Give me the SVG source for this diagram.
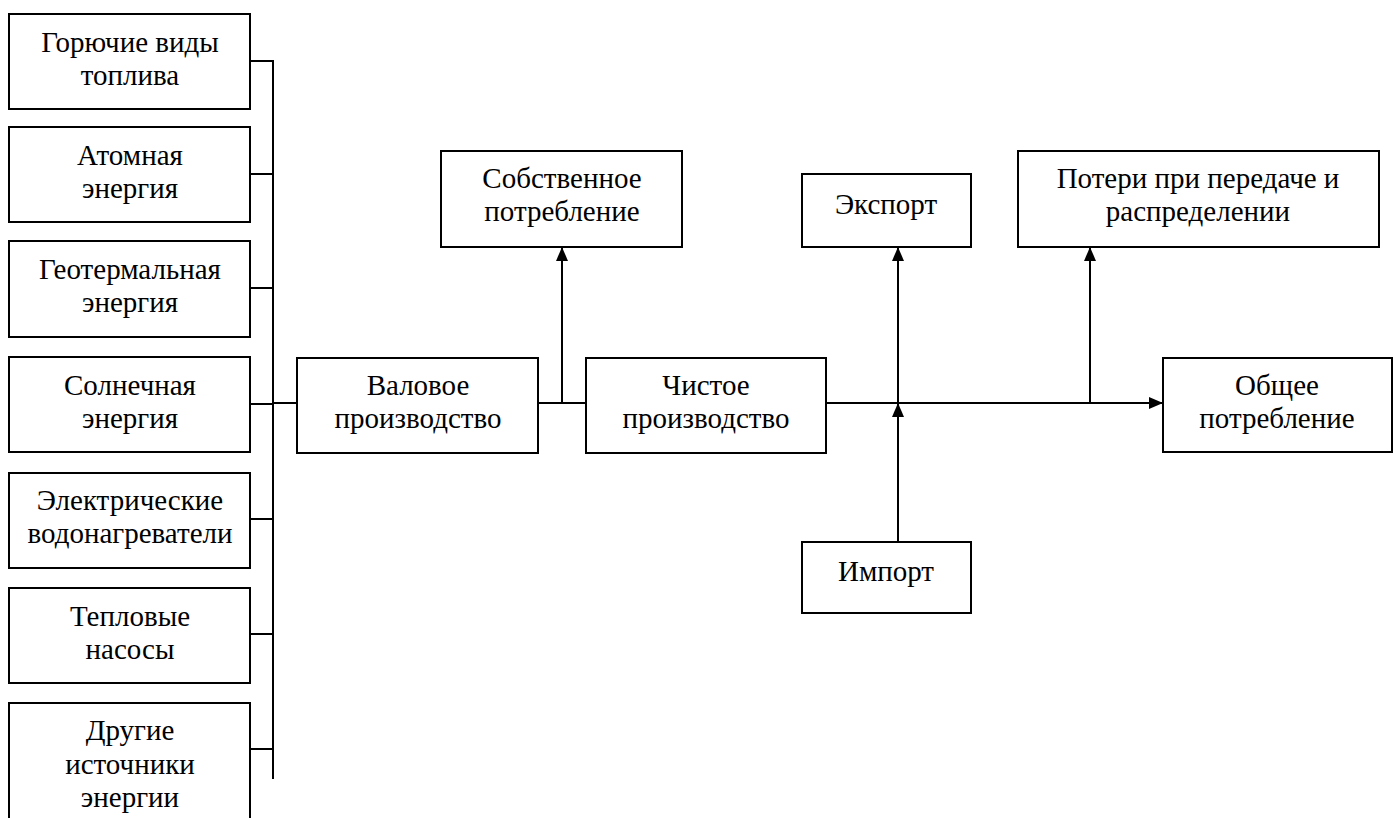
<svg xmlns="http://www.w3.org/2000/svg" width="1394" height="818" viewBox="0 0 1394 818">
  <style>
    .box { fill: #fff; stroke: #000; stroke-width: 2; }
    .lbl { font-size: 29px; fill: #000; text-anchor: middle; }
    .wire { fill: none; stroke: #000; stroke-width: 2; }
  </style>
  <defs>
    <marker id="arrow" viewBox="0 0 14 12" refX="14" refY="6" markerWidth="14" markerHeight="12" markerUnits="userSpaceOnUse" orient="auto">
      <path d="M0,0 L14,6 L0,12 Z" fill="#000"/>
    </marker>
  </defs>
  <rect width="1394" height="818" fill="#fff"/>

  <!-- connectors -->
  <g id="connectors" class="wire">
    <!-- source bus -->
    <path d="M273,60 V779"/>
    <path d="M250,61 H273"/>
    <path d="M250,174 H273"/>
    <path d="M250,288 H273"/>
    <path d="M250,404 H273"/>
    <path d="M250,519 H273"/>
    <path d="M250,634 H273"/>
    <path d="M250,749 H273"/>
    <path d="M273,403 H297"/>
    <!-- gross to net -->
    <path d="M538,403 H586"/>
    <path d="M562,403 V247" marker-end="url(#arrow)"/>
    <!-- net to total consumption -->
    <path d="M826,403 H1163" marker-end="url(#arrow)"/>
    <path d="M898,403 V247" marker-end="url(#arrow)"/>
    <path d="M898,542 V403" marker-end="url(#arrow)"/>
    <path d="M1090,403 V247" marker-end="url(#arrow)"/>
  </g>

  <g font-family="Liberation Serif, serif">
  <!-- energy sources -->
  <g id="src-fuel">
    <rect class="box" x="9" y="14" width="241" height="95"/>
    <text class="lbl" x="130" y="52">Горючие виды</text>
    <text class="lbl" x="130" y="85">топлива</text>
  </g>
  <g id="src-nuclear">
    <rect class="box" x="9" y="127" width="241" height="95"/>
    <text class="lbl" x="130" y="165">Атомная</text>
    <text class="lbl" x="130" y="198">энергия</text>
  </g>
  <g id="src-geothermal">
    <rect class="box" x="9" y="241" width="241" height="96"/>
    <text class="lbl" x="130" y="279">Геотермальная</text>
    <text class="lbl" x="130" y="312">энергия</text>
  </g>
  <g id="src-solar">
    <rect class="box" x="9" y="357" width="241" height="95"/>
    <text class="lbl" x="130" y="395">Солнечная</text>
    <text class="lbl" x="130" y="428">энергия</text>
  </g>
  <g id="src-heaters">
    <rect class="box" x="9" y="473" width="241" height="95"/>
    <text class="lbl" x="130" y="510">Электрические</text>
    <text class="lbl" x="130" y="543">водонагреватели</text>
  </g>
  <g id="src-heatpumps">
    <rect class="box" x="9" y="588" width="241" height="95"/>
    <text class="lbl" x="130" y="626">Тепловые</text>
    <text class="lbl" x="130" y="659">насосы</text>
  </g>
  <g id="src-other">
    <rect class="box" x="9" y="703" width="241" height="130"/>
    <text class="lbl" x="130" y="740">Другие</text>
    <text class="lbl" x="130" y="774">источники</text>
    <text class="lbl" x="130" y="807">энергии</text>
  </g>

  <!-- production chain -->
  <g id="gross">
    <rect class="box" x="297" y="358" width="241" height="95"/>
    <text class="lbl" x="418" y="395">Валовое</text>
    <text class="lbl" x="418" y="428">производство</text>
  </g>
  <g id="own-use">
    <rect class="box" x="441" y="151" width="241" height="96"/>
    <text class="lbl" x="562" y="188">Собственное</text>
    <text class="lbl" x="562" y="221">потребление</text>
  </g>
  <g id="net">
    <rect class="box" x="586" y="358" width="240" height="95"/>
    <text class="lbl" x="706" y="395">Чистое</text>
    <text class="lbl" x="706" y="428">производство</text>
  </g>
  <g id="export">
    <rect class="box" x="802" y="174" width="169" height="73"/>
    <text class="lbl" x="886" y="214">Экспорт</text>
  </g>
  <g id="import">
    <rect class="box" x="802" y="542" width="169" height="71"/>
    <text class="lbl" x="886" y="581">Импорт</text>
  </g>
  <g id="losses">
    <rect class="box" x="1018" y="151" width="361" height="96"/>
    <text class="lbl" x="1198" y="188">Потери при передаче и</text>
    <text class="lbl" x="1198" y="221">распределении</text>
  </g>
  <g id="total">
    <rect class="box" x="1163" y="358" width="229" height="94"/>
    <text class="lbl" x="1277" y="395">Общее</text>
    <text class="lbl" x="1277" y="428">потребление</text>
  </g>
  </g>
</svg>
